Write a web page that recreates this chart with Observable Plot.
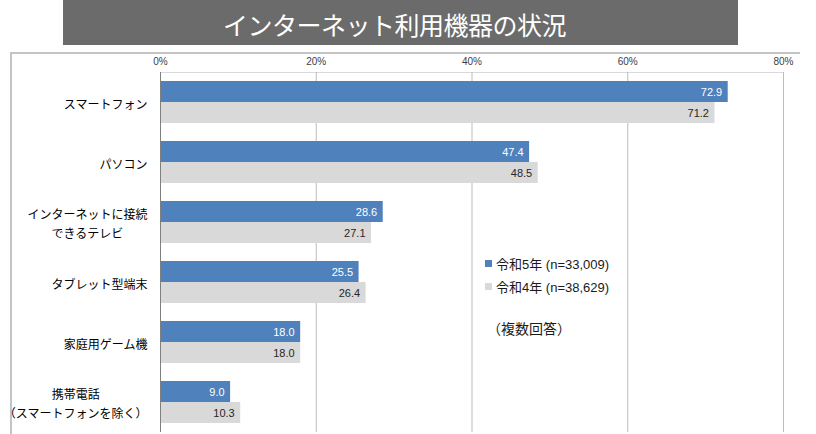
<!DOCTYPE html>
<html>
<head>
<meta charset="utf-8">
<script src="https://cdn.jsdelivr.net/npm/d3@7"></script>
<script src="https://cdn.jsdelivr.net/npm/@observablehq/plot@0.6"></script>
<style>
  html, body { margin: 0; padding: 0; background: #fff; }
  body { width: 816px; height: 434px; overflow: hidden; position: relative;
         font-family: "Liberation Sans", "Noto Sans CJK JP", sans-serif; }
  #title { position: absolute; left: 63px; top: 0; width: 675px; height: 45px;
           background: #6b6b6b; color: #fff; font-family: "Noto Sans CJK JP", sans-serif;
           font-size: 25px; font-weight: 400; line-height: 45px; text-align: center;
           box-sizing: border-box; padding: 2px 12px 0 0; letter-spacing: -0.5px; }
  #frame { position: absolute; left: 10px; top: 52px; width: 790px; height: 400px;
           border-top: 2px solid #c4c4c4; border-left: 2px solid #c4c4c4; box-sizing: border-box; }
  #chart { position: absolute; left: 0; top: 45px; }
  .leg { position: absolute; font-size: 13px; color: #1a1a1a; white-space: nowrap; line-height: 16px; }
  .sw { display: inline-block; width: 7px; height: 7px; margin-right: 4px; vertical-align: 2px; }
</style>
</head>
<body>
<div id="title">インターネット利用機器の状況</div>
<div id="frame"></div>
<div id="chart"></div>
<div id="legend"></div>
<script>
// ---- data ----
const categories = [
  "スマートフォン",
  "パソコン",
  "インターネットに接続\nできるテレビ",
  "タブレット型端末",
  "家庭用ゲーム機",
  "携帯電話\n（スマートフォンを除く）"
];
const seriesNames = ["令和5年 (n=33,009)", "令和4年 (n=38,629)"];
const valuesR5 = [72.9, 47.4, 28.6, 25.5, 18.0, 9.0];
const valuesR4 = [71.2, 48.5, 27.1, 26.4, 18.0, 10.3];
const xTicks = [0, 20, 40, 60, 80];
const note = "（複数回答）";

const colors = ["#4f81bd", "#d9d9d9"];
const labelColors = ["#ffffff", "#262626"];

const r5 = categories.map((c, i) => ({cat: c, v: valuesR5[i]}));
const r4 = categories.map((c, i) => ({cat: c, v: valuesR4[i]}));

const chart = Plot.plot({
  width: 816,
  height: 389,
  marginTop: 27,
  marginBottom: 2,
  marginLeft: 160,
  marginRight: 33,
  style: {fontFamily: "'Liberation Sans', 'Noto Sans CJK JP', sans-serif", background: "transparent"},
  x: {domain: [0, 80], axis: null, label: null},
  y: {domain: categories, paddingInner: 0.3, paddingOuter: 0.15, axis: null, label: null},
  marks: [
    Plot.frame({anchor: "top", stroke: "#d9d9d9"}),
    Plot.ruleX(xTicks.slice(1), {stroke: "#bdbdbd"}),
    Plot.barX(r5, {x: "v", y: "cat", fill: colors[0], insetBottom: 21}),
    Plot.barX(r4, {x: "v", y: "cat", fill: colors[1], insetTop: 21}),
    Plot.ruleX([0], {stroke: "#7f7f7f"}),
    Plot.text(r5, {x: "v", y: "cat", text: d => d.v.toFixed(1), textAnchor: "end", dx: -6, dy: -10.5,
                   fill: labelColors[0], fontSize: 11}),
    Plot.text(r4, {x: "v", y: "cat", text: d => d.v.toFixed(1), textAnchor: "end", dx: -6, dy: 10.5,
                   fill: labelColors[1], fontSize: 11}),
    Plot.axisX({anchor: "top", ticks: xTicks, tickFormat: d => d + "%", tickSize: 0, tickPadding: 8,
                fontSize: 10, color: "#404040", label: null}),
    Plot.axisY({anchor: "left", tickSize: 0, tickPadding: 13, fontSize: 12, lineHeight: 1.6,
                color: "#000", fontFamily: "'Noto Sans CJK JP', sans-serif", label: null})
  ]
});
document.getElementById("chart").appendChild(chart);

// center the lines of multi-line category labels within their block (block stays right-aligned)
chart.querySelectorAll('g[aria-label="y-axis tick label"] text').forEach(t => {
  const spans = t.querySelectorAll("tspan");
  if (spans.length > 1) {
    let maxW = 0;
    spans.forEach(s => { maxW = Math.max(maxW, s.getComputedTextLength()); });
    t.setAttribute("text-anchor", "middle");
    spans.forEach(s => { s.setAttribute("x", (parseFloat(s.getAttribute("x")) || 0) - maxW / 2); });
  }
});

// legend
const legend = document.getElementById("legend");
seriesNames.forEach((name, i) => {
  const d = document.createElement("div");
  d.className = "leg";
  d.style.left = "485px";
  d.style.top = (257 + i * 23) + "px";
  d.innerHTML = `<span class="sw" style="background:${colors[i]}"></span>`;
  d.appendChild(document.createTextNode(name));
  legend.appendChild(d);
});
const n = document.createElement("div");
n.className = "leg";
n.style.left = "487px";
n.style.top = "321px";
n.style.fontSize = "14px";
n.textContent = note;
legend.appendChild(n);
</script>
</body>
</html>
